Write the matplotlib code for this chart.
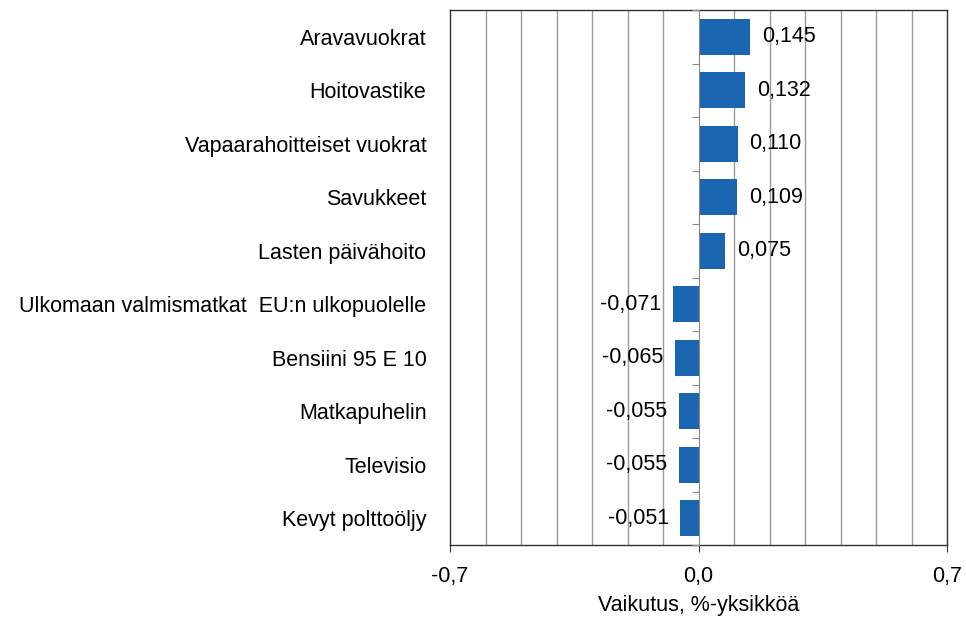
import matplotlib
matplotlib.use("Agg")
import matplotlib.pyplot as plt
import numpy as np

categories = ['Aravavuokrat', 'Hoitovastike', 'Vapaarahoitteiset vuokrat', 'Savukkeet',
              'Lasten päivähoito', 'Ulkomaan valmismatkat  EU:n ulkopuolelle',
              'Bensiini 95 E 10', 'Matkapuhelin', 'Televisio', 'Kevyt polttoöljy']
values = [0.145, 0.132, 0.110, 0.109, 0.075, -0.071, -0.065, -0.055, -0.055, -0.051]
xticks = [-0.7, 0.0, 0.7]

plt.rcParams['font.family'] = ['Liberation Sans', 'DejaVu Sans']
plt.rcParams['font.size'] = 15.5

fig = plt.figure(figsize=(9.66, 6.2), dpi=100)
ax = fig.add_axes([450 / 966, 75 / 620, 497 / 966, 535 / 620])

y = np.arange(len(categories))
ax.barh(y, values, height=0.68, color='#1a66b0', zorder=3)
ax.set_ylim(len(categories) - 0.5, -0.5)
ax.set_xlim(-0.7, 0.7)

# gridlines every 0.1
ax.set_xticks(np.round(np.arange(-0.7, 0.71, 0.1), 1), minor=True)
ax.grid(axis='x', which='minor', color='#9a9a9a', lw=1, zorder=0)
ax.set_xticks(xticks)
ax.set_xticklabels([f'{v:.1f}'.replace('.', ',') for v in xticks])
ax.tick_params(axis='x', which='major', length=5, color='#333333', pad=10)
ax.tick_params(axis='x', which='minor', length=0)

ax.set_yticks(y)
ax.set_yticklabels(categories)
ax.tick_params(axis='y', length=0, pad=17)

for s in ax.spines.values():
    s.set_color('#333333')
    s.set_linewidth(1)

# category axis on the zero line
ax2 = ax.twinx()
ax2.set_ylim(ax.get_ylim())
ax2.spines['right'].set_position(('data', 0))
ax2.spines['right'].set_color('#888888')
for k in ['left', 'top', 'bottom']:
    ax2.spines[k].set_visible(False)
ax2.set_yticks(np.arange(-0.5, len(categories) - 0.4, 1))
ax2.set_yticklabels([])
ax2.tick_params(axis='y', direction='in', length=5, color='#888888')

for yi, v in zip(y, values):
    lab = f'{v:.3f}'.replace('.', ',')
    if v >= 0:
        ax.text(v + 0.033, yi, lab, va='center', ha='left', zorder=4)
    else:
        ax.text(v - 0.033, yi, lab, va='center', ha='right', zorder=4)

ax.set_xlabel('Vaikutus, %-yksikköä', labelpad=6)

fig.savefig('out.png', dpi=100)
